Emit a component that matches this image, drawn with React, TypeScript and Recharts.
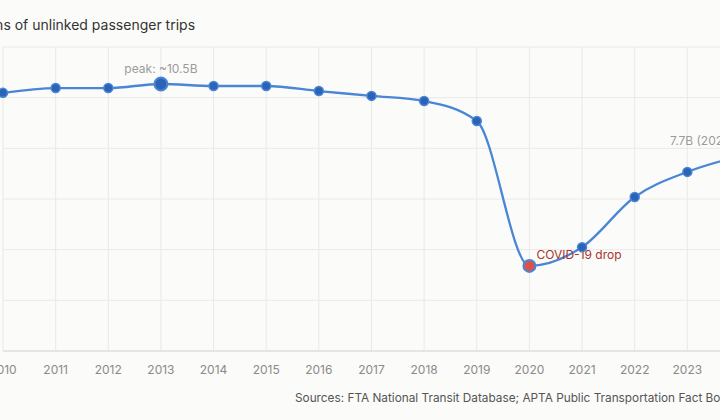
import { LineChart, Line, XAxis, YAxis, CartesianGrid } from "recharts";

// Annual unlinked passenger trips, billions
const years = [2010, 2011, 2012, 2013, 2014, 2015, 2016, 2017, 2018, 2019, 2020, 2021, 2022, 2023, 2024];
const trips = [10.19, 10.38, 10.38, 10.54, 10.46, 10.46, 10.26, 10.07, 9.87, 9.08, 3.36, 4.1, 6.08, 7.07, 7.7];
const yTicks = [0, 2, 4, 6, 8, 10, 12];

const PEAK_YEAR = 2013;
const COVID_YEAR = 2020;
const LAST_YEAR = 2024;
const peakLabel = "peak: ~10.5B";
const covidLabel = "COVID-19 drop";
const lastLabel = "7.7B (2024)";

const data = years.map((year, i) => ({ year, trips: trips[i] }));

const FONT = "Inter, 'Noto Sans', sans-serif";
const LINE = "#4a86d6";
const DOT = "#2b63b6";

const renderDot = (props: any) => {
  const { cx, cy, index } = props;
  const year = years[index];
  if (year === PEAK_YEAR) {
    return (
      <g key={`dot-${index}`}>
        <circle cx={cx} cy={cy} r={6.5} fill={DOT} stroke={LINE} strokeWidth={2} />
        <text x={cx} y={cy - 15} textAnchor="middle" dominantBaseline="central" fontSize={12} fill="#9b9b9b" fontFamily={FONT}>
          {peakLabel}
        </text>
      </g>
    );
  }
  if (year === COVID_YEAR) {
    return (
      <g key={`dot-${index}`}>
        <circle cx={cx} cy={cy} r={6} fill="#d9534a" stroke={LINE} strokeWidth={2} />
        <text x={cx + 7} y={cy - 11} textAnchor="start" dominantBaseline="central" fontSize={12} fill="#a8322d" fontFamily={FONT}>
          {covidLabel}
        </text>
      </g>
    );
  }
  if (year === LAST_YEAR) {
    return (
      <g key={`dot-${index}`}>
        <circle cx={cx} cy={cy} r={4.5} fill={DOT} stroke={LINE} strokeWidth={1.5} />
        <text x={cx - 5} y={cy - 15} textAnchor="end" dominantBaseline="central" fontSize={12} fill="#9b9b9b" fontFamily={FONT}>
          {lastLabel}
        </text>
      </g>
    );
  }
  return <circle key={`dot-${index}`} cx={cx} cy={cy} r={4.5} fill={DOT} stroke={LINE} strokeWidth={1.5} />;
};

export default function App() {
  return (
    <div
      style={{
        position: "absolute",
        left: 0,
        top: 0,
        width: 720,
        height: 420,
        overflow: "hidden",
        background: "#fbfbf9",
        fontFamily: FONT,
      }}
    >
      <div style={{ position: "absolute", left: -36, top: 16, fontSize: 14, color: "#333", whiteSpace: "nowrap", lineHeight: "18px" }}>
        Billions of unlinked passenger trips
      </div>
      <div style={{ position: "absolute", left: -60, top: 0 }}>
        <LineChart width={820} height={420} data={data} margin={{ top: 47, right: 20, left: 0, bottom: 39 }}>
          <CartesianGrid stroke="#e9e9e7" />
          <XAxis
            dataKey="year"
            type="number"
            domain={[2010, 2024]}
            ticks={years}
            height={30}
            tickLine={false}
            axisLine={{ stroke: "#e0e0de", strokeWidth: 1.5 }}
            tickMargin={8}
            tick={{ fontSize: 12, fill: "#8a8a8a", fontFamily: FONT }}
          />
          <YAxis
            width={63}
            domain={[0, 12]}
            ticks={yTicks}
            axisLine={false}
            tickLine={false}
            tick={{ fontSize: 12, fill: "#8a8a8a", fontFamily: FONT }}
          />
          <Line
            type="monotone"
            dataKey="trips"
            stroke={LINE}
            strokeWidth={2.3}
            dot={renderDot}
            activeDot={false}
            isAnimationActive={false}
          />
        </LineChart>
      </div>
      <div style={{ position: "absolute", left: 295, top: 390, fontSize: 11.8, color: "#555", whiteSpace: "nowrap", lineHeight: "16px" }}>
        Sources: FTA National Transit Database; APTA Public Transportation Fact Book
      </div>
    </div>
  );
}
